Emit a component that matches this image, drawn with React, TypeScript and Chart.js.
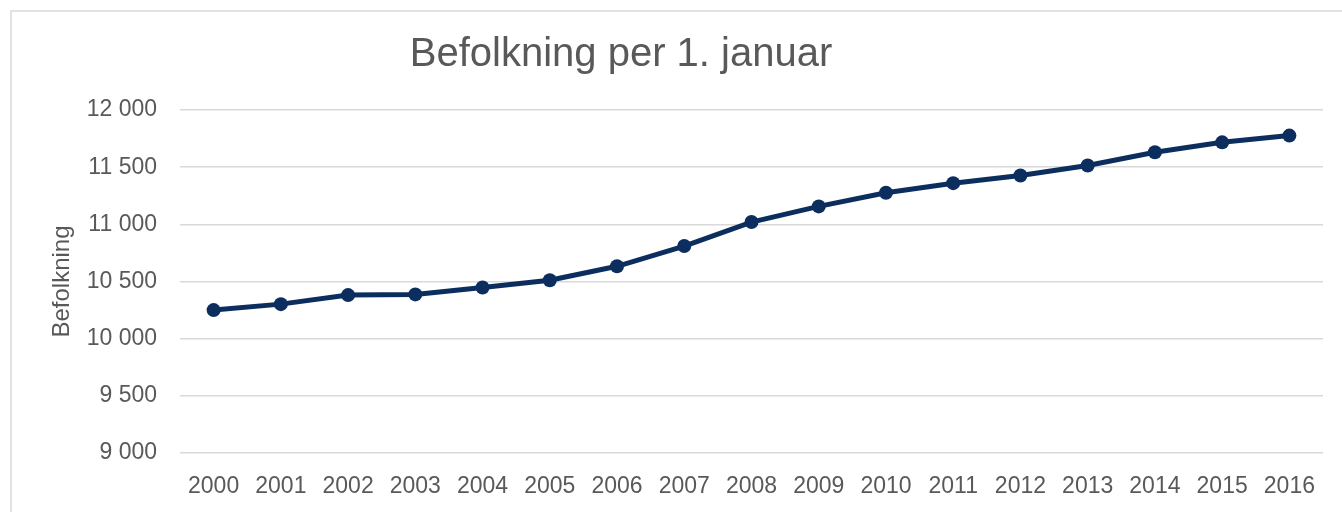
import React, { useEffect, useRef } from "react";
import { Chart, registerables } from "chart.js";

Chart.register(...registerables);

const years: string[] = [
  "2000", "2001", "2002", "2003", "2004", "2005", "2006", "2007", "2008",
  "2009", "2010", "2011", "2012", "2013", "2014", "2015", "2016",
];
const population: number[] = [
  10250, 10302, 10381, 10387, 10448, 10511, 10633, 10810, 11020,
  11157, 11276, 11360, 11427, 11514, 11630, 11717, 11776,
];
const chartTitle = "Befolkning per 1. januar";
const yAxisTitle = "Befolkning";
const yMin = 9000;
const yMax = 12000;
const yStep = 500;

const FONT = "'Liberation Sans', Arial, sans-serif";
const TEXT = "#595959";
const LINE = "#0c2e5f";

const fmt = (v: number) => {
  const s = Math.round(v).toString();
  return s.replace(/\B(?=(\d{3})+(?!\d))/g, " ");
};

export default function App() {
  const ref = useRef<HTMLCanvasElement | null>(null);
  useEffect(() => {
    if (!ref.current) return;
    const framePlugin = {
      id: "frameAndTitle",
      beforeDraw(chart: any) {
        const ctx = chart.ctx;
        ctx.save();
        ctx.fillStyle = "#ffffff";
        ctx.fillRect(0, 0, chart.width, chart.height);
        ctx.strokeStyle = "#d9d9d9";
        ctx.lineWidth = 1.5;
        ctx.strokeRect(11, 11, chart.width + 50, chart.height + 50);
        ctx.restore();
      },
      afterDraw(chart: any) {
        const ctx = chart.ctx;
        ctx.save();
        ctx.fillStyle = TEXT;
        ctx.font = `40px ${FONT}`;
        ctx.textAlign = "center";
        ctx.textBaseline = "alphabetic";
        ctx.fillText(chartTitle, 621, 66);
        ctx.restore();
      },
    };
    const chart = new Chart(ref.current, {
      type: "line",
      data: {
        labels: years,
        datasets: [
          {
            label: yAxisTitle,
            data: population,
            borderColor: LINE,
            backgroundColor: LINE,
            borderWidth: 5,
            pointRadius: 7,
            pointBorderWidth: 0,
            pointBackgroundColor: LINE,
            tension: 0,
          },
        ],
      },
      options: {
        animation: false,
        responsive: false,
        maintainAspectRatio: false,
        layout: { padding: { top: 110, right: 19, bottom: 0, left: 0 } },
        plugins: {
          legend: { display: false },
          title: { display: false },
          tooltip: { enabled: false },
        },
        scales: {
          x: {
            offset: true,
            grid: { display: false, drawTicks: false },
            border: { display: false },
            ticks: {
              color: TEXT,
              font: { family: FONT, size: 23 },
              padding: 20,
              maxRotation: 0,
              autoSkip: false,
            },
            afterFit(scale: any) {
              scale.height = 59;
            },
          },
          y: {
            min: yMin,
            max: yMax,
            grid: { color: "#d9d9d9", lineWidth: 1.5, drawTicks: false },
            border: { display: false },
            ticks: {
              stepSize: yStep,
              color: TEXT,
              font: { family: FONT, size: 23 },
              padding: 23,
              callback: (v: any) => fmt(Number(v)),
            },
            title: {
              display: true,
              text: yAxisTitle,
              color: TEXT,
              font: { family: FONT, size: 24 },
              padding: { top: 48, bottom: 0 },
            },
            afterFit(scale: any) {
              scale.width = 180;
            },
          },
        },
      },
      plugins: [framePlugin],
    });
    return () => chart.destroy();
  }, []);
  return (
    <div style={{ position: "absolute", left: 0, top: 0, width: 1342, height: 512 }}>
      <canvas ref={ref} width={1342} height={512} style={{ display: "block" }} />
    </div>
  );
}
